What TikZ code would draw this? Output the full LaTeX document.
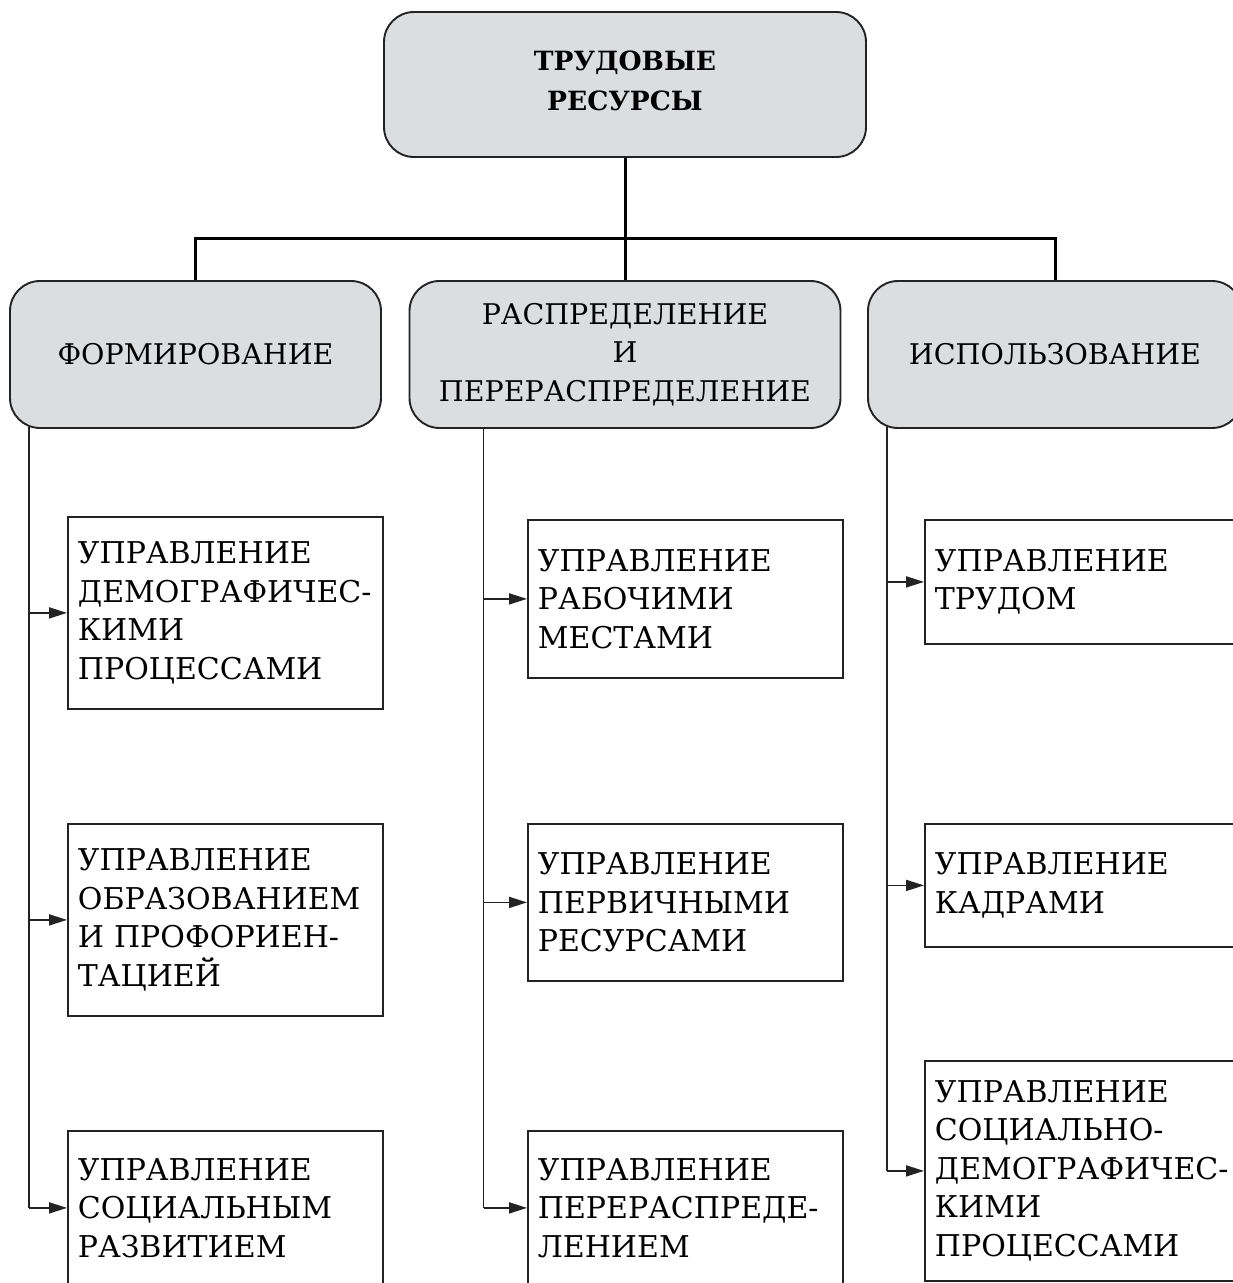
\documentclass[tikz,border=0pt]{standalone}
\usepackage{fontspec}
\setmainfont{DejaVu Serif}
\usetikzlibrary{arrows.meta}
\definecolor{boxgray}{RGB}{220,221,223}
\definecolor{edge}{RGB}{35,35,35}

\begin{document}
\begin{tikzpicture}[x=1pt,y=-1pt,
  hub/.style={draw=edge, line width=1.9pt, fill=boxgray, rounded corners=30pt,
    align=center, inner sep=0pt, font=\fontsize{28.5}{38.5}\selectfont},
  leaf/.style={draw=edge, line width=1.8pt, anchor=north west, align=left,
    inner xsep=10pt, inner ysep=0pt, text width=295pt, minimum width=315pt,
    font=\fontsize{30}{38.5}\selectfont},
  link/.style={line width=3pt, black},
  spine/.style={line width=1.8pt, edge},
  feed/.style={line width=1.8pt, edge, -{Triangle[length=18pt,width=11pt]}}
]
\useasboundingbox (0,0) rectangle (1233,1283);
\clip (0,0) rectangle (1233,1283);

% top level
\node[hub, minimum width=482pt, minimum height=145pt,
  font=\bfseries\fontsize{26.5}{39}\selectfont] (top) at (625,84.5)
  {\raisebox{7pt}{\shortstack{ТРУДОВЫЕ\\[13pt]РЕСУРСЫ}}};

% second level
\node[hub, minimum width=371pt, minimum height=147pt] (form) at (195.5,354.5) {ФОРМИРОВАНИЕ};
\node[hub, minimum width=431pt, minimum height=147pt] (distr) at (625,354.5)
  {РАСПРЕДЕЛЕНИЕ\\И\\ПЕРЕРАСПРЕДЕЛЕНИЕ};
\node[hub, minimum width=374pt, minimum height=147pt] (use) at (1055,354.5) {ИСПОЛЬЗОВАНИЕ};

% tree links from the top box
\coordinate (bus) at (625,238);
\draw[link] (top.south) -- (bus);
\draw[link] (form.north) -- (form.north |- bus) -- (use.north |- bus) -- (use.north);
\draw[link] (bus) -- (distr.north);

% formation branch
\node[leaf, minimum height=192pt] (f1) at (67,516)
  {УПРАВЛЕНИЕ\\\mbox{ДЕМОГРАФИЧЕС-}\\КИМИ\\ПРОЦЕССАМИ};
\node[leaf, minimum height=192pt] (f2) at (67,823)
  {УПРАВЛЕНИЕ\\ОБРАЗОВАНИЕМ\\\mbox{И ПРОФОРИЕН-}\\ТАЦИЕЙ};
\node[leaf, minimum height=154pt] (f3) at (67,1130)
  {УПРАВЛЕНИЕ\\СОЦИАЛЬНЫМ\\РАЗВИТИЕМ};

% distribution branch
\node[leaf, minimum height=158pt] (d1) at (527,519)
  {УПРАВЛЕНИЕ\\РАБОЧИМИ\\МЕСТАМИ};
\node[leaf, minimum height=157pt] (d2) at (527,823)
  {УПРАВЛЕНИЕ\\ПЕРВИЧНЫМИ\\РЕСУРСАМИ};
\node[leaf, minimum height=154pt] (d3) at (527,1130)
  {УПРАВЛЕНИЕ\\\mbox{ПЕРЕРАСПРЕДЕ-}\\ЛЕНИЕМ};

% usage branch
\node[leaf, minimum height=124pt] (u1) at (924,519)
  {УПРАВЛЕНИЕ\\ТРУДОМ};
\node[leaf, minimum height=123pt] (u2) at (924,823)
  {УПРАВЛЕНИЕ\\КАДРАМИ};
\node[leaf, minimum height=220pt] (u3) at (924,1060)
  {УПРАВЛЕНИЕ\\\mbox{СОЦИАЛЬНО-}\\\mbox{ДЕМОГРАФИЧЕС-}\\КИМИ\\ПРОЦЕССАМИ};

% spines with arrows into the boxes
\coordinate (fs) at ([xshift=20pt,yshift=2pt]form.south west);
\coordinate (ds) at ([xshift=75pt,yshift=1pt]distr.south west);
\coordinate (us) at ([xshift=20pt,yshift=2pt]use.south west);

\draw[spine] (fs) -- (fs |- f3.west);
\foreach \b in {f1,f2,f3} \draw[feed] (fs |- \b.west) -- (\b.west);
\draw[spine] (ds) -- (ds |- d3.west);
\foreach \b in {d1,d2,d3} \draw[feed] (ds |- \b.west) -- (\b.west);
\draw[spine] (us) -- (us |- u3.west);
\foreach \b in {u1,u2,u3} \draw[feed] (us |- \b.west) -- (\b.west);
\end{tikzpicture}
\end{document}
